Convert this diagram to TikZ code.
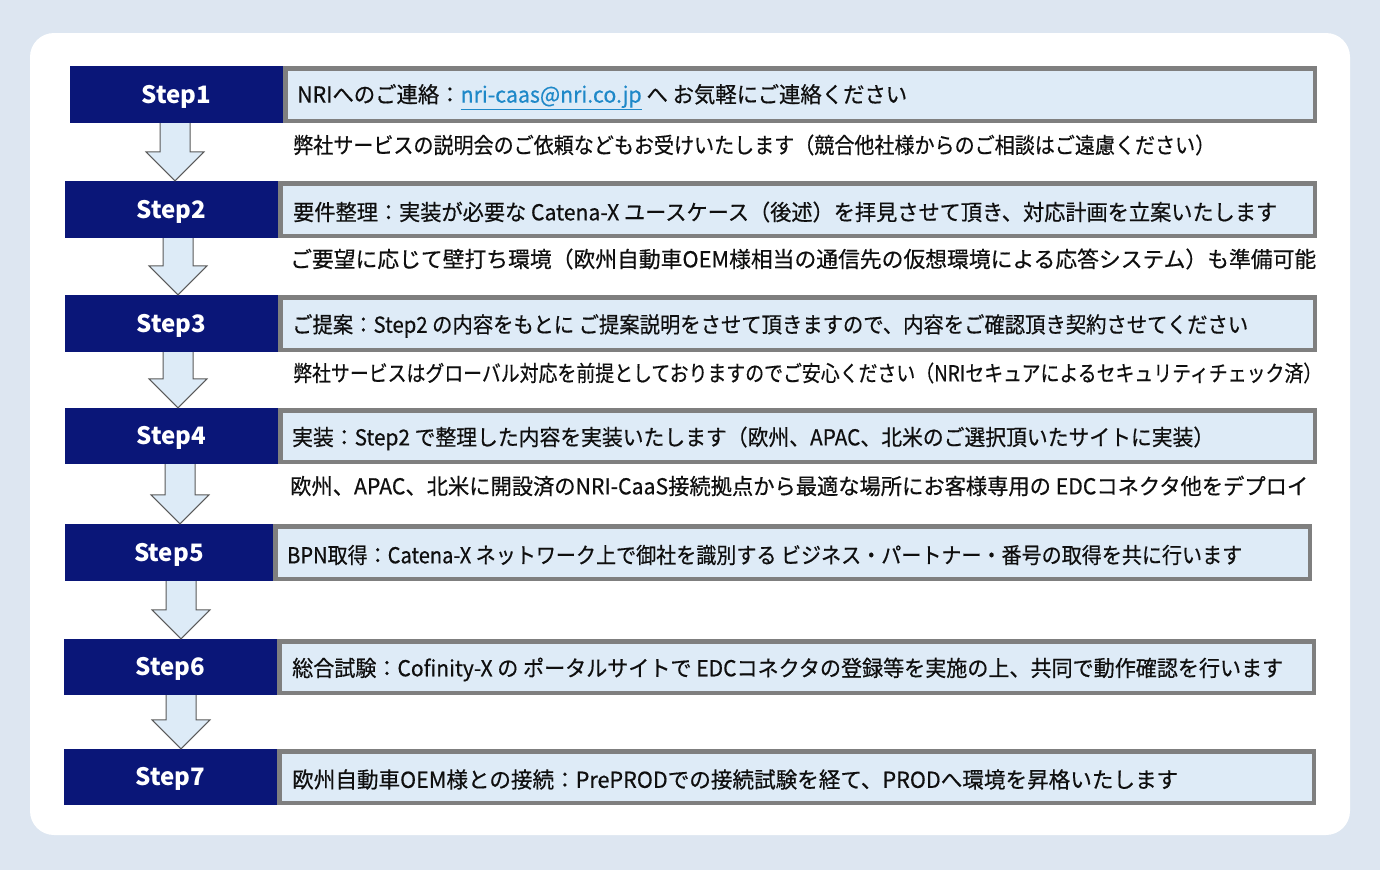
\documentclass[tikz,border=0pt]{standalone}
\usepackage{fontspec}
\usepackage{graphicx}
\setmainfont{Noto Sans CJK JP}
\newfontfamily\jpmed[FakeBold=0.5]{Noto Sans CJK JP}
\usetikzlibrary{calc}
\definecolor{bgcol}{RGB}{221,230,241}
\definecolor{navy}{RGB}{10,22,120}
\definecolor{boxfill}{RGB}{222,235,247}
\definecolor{boxline}{RGB}{127,127,127}
\definecolor{arrfill}{RGB}{221,235,247}
\definecolor{arrline}{RGB}{90,90,90}
\definecolor{mailcol}{RGB}{30,136,200}
\definecolor{txt}{RGB}{15,15,15}
\newsavebox\fitbox
\newlength\fitlen
\newcommand\fitw[2]{\sbox\fitbox{#2}\setlength\fitlen{\wd\fitbox}\pgfmathsetmacro\fitfac{#1/\fitlen}\scalebox{\fitfac}[1]{\usebox\fitbox}}
\newcommand\steplabel[1]{\raisebox{-8.5pt}[0pt][0pt]{#1}}
\newcommand\flowarrow[3]{%
  \filldraw[flowarr] let \p1=(#1.south), \p2=(#2.north) in
   (#3pt-15pt,\y1) -- (#3pt-15pt,\y2+29pt) -- (#3pt-29pt,\y2+29pt) -- (#3pt,\y2)
   -- (#3pt+29pt,\y2+29pt) -- (#3pt+15pt,\y2+29pt) -- (#3pt+15pt,\y1);}
\tikzset{
  stepbox/.style={fill=navy, draw=none, inner sep=0pt, minimum width=213pt, minimum height=57pt,
     text=white, font=\fontsize{24pt}{27pt}\selectfont\bfseries},
  contbox/.style={fill=boxfill, draw=boxline, line width=4.5pt, inner sep=0pt, minimum height=52.5pt},
  maintext/.style={anchor=west, inner sep=0pt, text=txt, font=\jpmed\fontsize{22pt}{26pt}\selectfont},
  subtext/.style={anchor=west, inner sep=0pt, text=txt, font=\jpmed\fontsize{22pt}{26pt}\selectfont},
  flowarr/.style={fill=arrfill, draw=arrline, line width=1pt, line join=miter},
}
\begin{document}
\begin{tikzpicture}[x=1pt,y=-1pt]
\useasboundingbox (0,0) rectangle (1380,870);
\fill[bgcol] (0,0) rectangle (1380,870);
\fill[white, rounded corners=24pt] (30,33) rectangle (1350,835);
% step boxes
\node[stepbox] (s1) at (176.5,94.5) {\steplabel{Step1}};
\node[stepbox] (s2) at (171.5,209.5) {\steplabel{Step2}};
\node[stepbox] (s3) at (171.5,323.5) {\steplabel{Step3}};
\node[stepbox, minimum height=56pt] (s4) at (171.5,436) {\steplabel{Step4}};
\node[stepbox, minimum width=208pt] (s5) at (169,552.5) {\steplabel{Step5}};
\node[stepbox, minimum height=56pt] (s6) at (170.5,667) {\steplabel{Step6}};
\node[stepbox, minimum height=56pt] (s7) at (170.5,777) {\steplabel{Step7}};
% content boxes
\node[contbox, minimum width=1029.5pt] (c1) at (800,94.5) {};
\node[contbox, minimum width=1034.5pt] (c2) at (797.5,209.5) {};
\node[contbox, minimum width=1034.5pt] (c3) at (797.5,323.5) {};
\node[contbox, minimum width=1034.5pt, minimum height=51.5pt] (c4) at (797.5,436) {};
\node[contbox, minimum width=1034.5pt] (c5) at (792.5,552.5) {};
\node[contbox, minimum width=1034.5pt, minimum height=51.5pt] (c6) at (796.5,667) {};
\node[contbox, minimum width=1034.5pt, minimum height=51.5pt] (c7) at (796.5,777) {};
% main texts
\node[maintext] (t1) at (297,97) {\fitw{610}{NRIへのご連絡：{\color{mailcol}\underline{nri-caas@nri.co.jp}} へ お気軽にご連絡ください}};
\node[maintext] (t2) at (293,212) {\fitw{984}{要件整理：実装が必要な Catena-X ユースケース（後述）を拝見させて頂き、対応計画を立案いたします}};
\node[maintext] (t3) at (292,326) {\fitw{956}{ご提案：Step2 の内容をもとに ご提案説明をさせて頂きますので、内容をご確認頂き契約させてください}};
\node[maintext] (t4) at (292,438.5) {\fitw{922}{実装：Step2 で整理した内容を実装いたします（欧州、APAC、北米のご選択頂いたサイトに実装）}};
\node[maintext] (t5) at (287,555) {\fitw{955}{BPN取得：Catena-X ネットワーク上で御社を識別する ビジネス・パートナー・番号の取得を共に行います}};
\node[maintext] (t6) at (292,669.5) {\fitw{991}{総合試験：Cofinity-X の ポータルサイトで EDCコネクタの登録等を実施の上、共同で動作確認を行います}};
\node[maintext] (t7) at (292,779.5) {\fitw{886}{欧州自動車OEM様との接続：PrePRODでの接続試験を経て、PRODへ環境を昇格いたします}};
% sub texts
\node[subtext] (u1) at (293,145) {\fitw{922}{弊社サービスの説明会のご依頼などもお受けいたします（競合他社様からのご相談はご遠慮ください）}};
\node[subtext] (u2) at (290,259) {\fitw{1026}{ご要望に応じて壁打ち環境（欧州自動車OEM様相当の通信先の仮想環境による応答システム）も準備可能}};
\node[subtext] (u3) at (293,373) {\fitw{1029}{弊社サービスはグローバル対応を前提としておりますのでご安心ください（NRIセキュアによるセキュリティチェック済）}};
\node[subtext] (u4) at (290,486) {\fitw{1018}{欧州、APAC、北米に開設済のNRI-CaaS接続拠点から最適な場所にお客様専用の EDCコネクタ他をデプロイ}};
% arrows
\flowarrow{s1}{s2}{175}
\flowarrow{s2}{s3}{178}
\flowarrow{s3}{s4}{178}
\flowarrow{s4}{s5}{180}
\flowarrow{s5}{s6}{181}
\flowarrow{s6}{s7}{181}
\end{tikzpicture}
\end{document}
